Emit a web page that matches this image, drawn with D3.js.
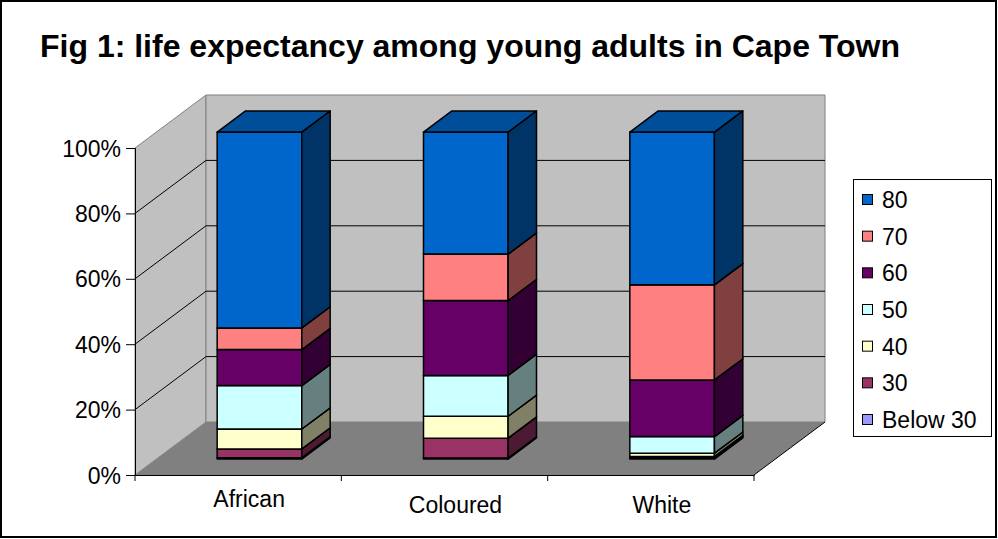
<!DOCTYPE html>
<html>
<head>
<meta charset="utf-8">
<script src="https://cdn.jsdelivr.net/npm/d3@7"></script>
<style>
  body { margin: 0; background: #fff; }
  svg text { font-family: "Liberation Sans", Arial, sans-serif; fill: #000; }
</style>
</head>
<body>
<svg id="canvas" width="998" height="539"></svg>
<script>
// Data (percent of each group)
let groups = ['African', 'Coloured', 'White']
let bands = ['Below 30', '30', '40', '50', '60', '70', '80']
let below30 = [0.4, 0.3, 0.3]
let age30 = [2.7, 6.1, 0.5]
let age40 = [6.1, 6.7, 1.0]
let age50 = [13.3, 12.5, 5.1]
let age60 = [11.0, 22.9, 17.3]
let age70 = [6.6, 14.2, 29.1]
let age80 = [59.9, 37.3, 46.7]
let yTicks = [0, 0.2, 0.4, 0.6, 0.8, 1]

let bandColors = ['#9999FF', '#993366', '#FFFFCC', '#CCFFFF', '#660066', '#FF8080', '#0066CC']

let seriesValues = [below30, age30, age40, age50, age60, age70, age80]
let rows = groups.map((g, i) => {
    let row = { group: g }
    bands.forEach((b, j) => { row[b] = seriesValues[j][i] })
    return row
})

let canvas = d3.select('#canvas')

// frame
canvas.append('rect')
    .attr('x', 1).attr('y', 1).attr('width', 995).attr('height', 536)
    .attr('fill', '#fff').attr('stroke', '#000').attr('stroke-width', 2)

canvas.append('text')
    .attr('x', 40).attr('y', 57)
    .style('font-size', '32px').style('font-weight', 'bold')
    .text('Fig 1: life expectancy among young adults in Cape Town')

// front plane scales, plus depth offsets for the 3d look
let x = d3.scaleBand().domain(groups).range([135, 754])
let y = d3.scaleLinear().domain([0, 1]).range([475, 148])
let depthX = d3.scaleLinear().domain([0, 1]).range([0, 71])
let depthY = d3.scaleLinear().domain([0, 1]).range([0, -53])

let pt = (px, py, d) => [px + depthX(d), py + depthY(d)]
let poly = (pts) => pts.map(p => p.join(',')).join(' ')

let x0 = x.range()[0], x1 = x.range()[1]

// floor
canvas.append('polygon')
    .attr('points', poly([pt(x0, y(0), 0), pt(x1, y(0), 0), pt(x1, y(0), 1), pt(x0, y(0), 1)]))
    .attr('fill', '#808080').attr('stroke', 'none')
// side wall
canvas.append('polygon')
    .attr('points', poly([pt(x0, y(0), 0), pt(x0, y(1), 0), pt(x0, y(1), 1), pt(x0, y(0), 1)]))
    .attr('fill', '#C0C0C0').attr('stroke', '#808080')
// back wall
canvas.append('polygon')
    .attr('points', poly([pt(x0, y(0), 1), pt(x0, y(1), 1), pt(x1, y(1), 1), pt(x1, y(0), 1)]))
    .attr('fill', '#C0C0C0').attr('stroke', '#808080')

// gridlines on side and back walls
let grid = canvas.append('g')
yTicks.slice(1, -1).forEach(t => {
    grid.append('polyline')
        .attr('points', poly([pt(x0, y(t), 0), pt(x0, y(t), 1), pt(x1, y(t), 1)]))
        .attr('fill', 'none').attr('stroke', '#000').attr('stroke-width', 1)
})

// floor edge on the right
canvas.append('line')
    .attr('x1', pt(x1, y(0), 0)[0]).attr('y1', pt(x1, y(0), 0)[1])
    .attr('x2', pt(x1, y(0), 1)[0]).attr('y2', pt(x1, y(0), 1)[1])
    .attr('stroke', '#000')

// value axis
let yAxis = d3.axisLeft(y).tickValues(yTicks).tickFormat(d3.format('.0%')).tickSizeOuter(0).tickSize(9).tickPadding(5)
let ya = canvas.append('g').attr('transform', `translate(${x0},0)`).call(yAxis)
ya.selectAll('text').style('font-size', '23px').attr('dy', '0.35em')
ya.select('.domain').attr('stroke', '#000')

// category axis line and ticks
let xa = canvas.append('g').attr('transform', `translate(0,${y(0)})`)
    .call(d3.axisBottom(x).tickValues([]).tickSizeOuter(0))
xa.select('.domain').attr('stroke', '#000')
xa.selectAll('.divider')
    .data(d3.range(groups.length + 1))
    .enter().append('line')
    .attr('x1', i => x0 + i * x.step()).attr('x2', i => x0 + i * x.step())
    .attr('y1', 0).attr('y2', 6)
    .attr('stroke', '#000')

// category labels (Excel shifts them right and staggers the first one)
canvas.selectAll('.cat')
    .data(groups)
    .enter().append('text')
    .attr('class', 'cat')
    .attr('x', d => x(d) + x.bandwidth() / 2 + 11)
    .attr('y', (d, i) => i == 0 ? 507 : 513)
    .attr('text-anchor', 'middle')
    .style('font-size', '23px')
    .text(d => d)

// stacked 3d bars
let stack = d3.stack().keys(bands).offset(d3.stackOffsetExpand)
let layers = stack(rows)

let barW = x.bandwidth() * 0.41
let dFront = 0.3, dBack = 0.7

let shade = (c, k) => {
    let col = d3.rgb(c)
    return d3.rgb(col.r * k, col.g * k, col.b * k).formatHex()
}

let bars = canvas.append('g')
groups.forEach((g, gi) => {
    let bx0 = x(g) + (x.bandwidth() - barW) / 2
    let bx1 = bx0 + barW
    layers.forEach((layer, li) => {
        let v0 = layer[gi][0], v1 = layer[gi][1]
        if (v1 - v0 <= 0) return
        let c = bandColors[li]
        let seg = bars.append('g')
            .attr('stroke', '#000').attr('stroke-width', 1.5).attr('stroke-linejoin', 'round')
        // front face
        seg.append('polygon')
            .attr('points', poly([pt(bx0, y(v0), dFront), pt(bx1, y(v0), dFront), pt(bx1, y(v1), dFront), pt(bx0, y(v1), dFront)]))
            .attr('fill', c)
        // right side
        seg.append('polygon')
            .attr('points', poly([pt(bx1, y(v0), dFront), pt(bx1, y(v0), dBack), pt(bx1, y(v1), dBack), pt(bx1, y(v1), dFront)]))
            .attr('fill', shade(c, 0.5))
        // top
        seg.append('polygon')
            .attr('points', poly([pt(bx0, y(v1), dFront), pt(bx1, y(v1), dFront), pt(bx1, y(v1), dBack), pt(bx0, y(v1), dBack)]))
            .attr('fill', shade(c, 0.75))
    })
})

// legend
let legend = canvas.append('g')
legend.append('rect')
    .attr('x', 853.5).attr('y', 179.5).attr('width', 138).attr('height', 257)
    .attr('fill', '#fff').attr('stroke', '#000')
let legendItems = bands.slice().reverse()
let ly = d3.scalePoint().domain(legendItems).range([200, 420])
legendItems.forEach(b => {
    let c = bandColors[bands.indexOf(b)]
    legend.append('rect')
        .attr('x', 862.5).attr('y', ly(b) - 5.5).attr('width', 10).attr('height', 10)
        .attr('fill', c).attr('stroke', '#000')
    legend.append('text')
        .attr('x', 882).attr('y', ly(b)).attr('dy', '0.35em')
        .style('font-size', '23px')
        .text(b)
})
</script>
</body>
</html>
